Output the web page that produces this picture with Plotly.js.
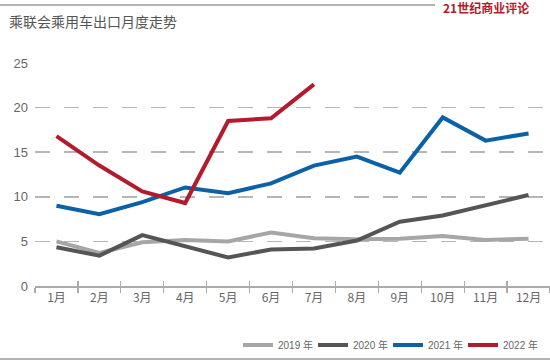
<!DOCTYPE html>
<html><head><meta charset="utf-8">
<script src="https://cdn.plot.ly/plotly-3.0.1.min.js"></script>
<style>html,body{margin:0;padding:0;background:#fff;}#chart{width:550px;height:361px;}</style>
</head><body><div id="chart"></div>
<script>
const months = ["1月","2月","3月","4月","5月","6月","7月","8月","9月","10月","11月","12月"];
const y2019 = [5.0, 3.7, 4.9, 5.15, 5.0, 6.0, 5.35, 5.25, 5.3, 5.6, 5.15, 5.3];
const y2020 = [4.35, 3.4, 5.7, 4.4, 3.2, 4.1, 4.2, 5.1, 7.2, 7.9, 9.1, 10.2];
const y2021 = [9.0, 8.05, 9.4, 11.05, 10.4, 11.5, 13.5, 14.5, 12.7, 18.9, 16.3, 17.1];
const y2022 = [16.8, 13.5, 10.6, 9.3, 18.5, 18.8, 22.6];
const seriesNames = ["2019 年","2020 年","2021 年","2022 年"];
const colors = ["#a6a6a6","#555555","#0b61a8","#b31b2c"];
const yTicks = [0,5,10,15,20,25];

const all = [y2019,y2020,y2021,y2022];
const traces = all.map((ys,i)=>({
  type:"scatter", mode:"lines", name:seriesNames[i],
  x: months.slice(0, ys.length), y: ys,
  line:{color:colors[i], width:4}
}));
// helper trace on overlay axis to draw inner half of the tick marks
traces.push({type:"scatter", mode:"lines", x:months, y:months.map(()=>null), xaxis:"x2",
  showlegend:false, hoverinfo:"skip", line:{color:"rgba(0,0,0,0)"}});

const L=35, R=550, T=63, B=286;
const px = x => (x-L)/(R-L);
const py = y => (B-y)/(B-T);

const layout = {
  width:550, height:361,
  margin:{l:L, r:550-R, t:T, b:361-B, pad:0},
  paper_bgcolor:"#fff", plot_bgcolor:"#fff",
  font:{family:"Liberation Sans, Noto Sans CJK SC, sans-serif", color:"#666", size:12},
  showlegend:true,
  legend:{orientation:"h", x:px(538), xanchor:"right", y:py(345), yanchor:"middle",
    font:{size:10, color:"#666"}, bgcolor:"rgba(0,0,0,0)", itemwidth:30,
    entrywidth:30, entrywidthmode:"pixels", tracegroupgap:0},
  xaxis:{type:"category", showgrid:false, showline:true, linecolor:"#aaa", linewidth:1.5,
    ticks:"outside", tickson:"boundaries", ticklen:5, tickcolor:"#aaa", tickwidth:1.2,
    tickfont:{size:12, color:"#666", family:"Noto Sans CJK SC, sans-serif"},
    range:[-0.5, 11.5], zeroline:false, fixedrange:true},
  xaxis2:{type:"category", overlaying:"x", matches:"x", side:"bottom", showgrid:false, showline:false,
    ticks:"inside", tickson:"boundaries", ticklen:5, tickcolor:"#aaa", tickwidth:1.2,
    showticklabels:false, zeroline:false, fixedrange:true},
  yaxis:{range:[0,25], tickvals:yTicks, showgrid:true, gridcolor:"#b5b5b5", gridwidth:1.5,
    griddash:"15px,14px", zeroline:false, showline:false, ticks:"", ticklabelstandoff:6,
    tickfont:{size:13, color:"#666"}, fixedrange:true},
  shapes:[
    {type:"line", xref:"paper", yref:"paper", x0:px(0), x1:px(435), y0:py(5), y1:py(5), line:{color:"#999", width:1.5}},
    {type:"line", xref:"paper", yref:"paper", x0:px(0), x1:px(550), y0:py(359), y1:py(359), line:{color:"#999", width:1.5}}
  ],
  annotations:[
    {xref:"paper", yref:"paper", x:px(7), y:py(21), xanchor:"left", yanchor:"middle", showarrow:false,
     text:"乘联会乘用车出口月度走势", font:{family:"Noto Sans CJK SC", size:14, color:"#555"}},
    {xref:"paper", yref:"paper", x:px(441), y:py(8), xanchor:"left", yanchor:"middle", showarrow:false,
     text:"<b>21世纪商业评论</b>", font:{family:"Noto Sans CJK SC", size:12, color:"#b31b2c"}}
  ]
};
Plotly.newPlot("chart", traces, layout, {displayModeBar:false, staticPlot:true});
</script></body></html>
